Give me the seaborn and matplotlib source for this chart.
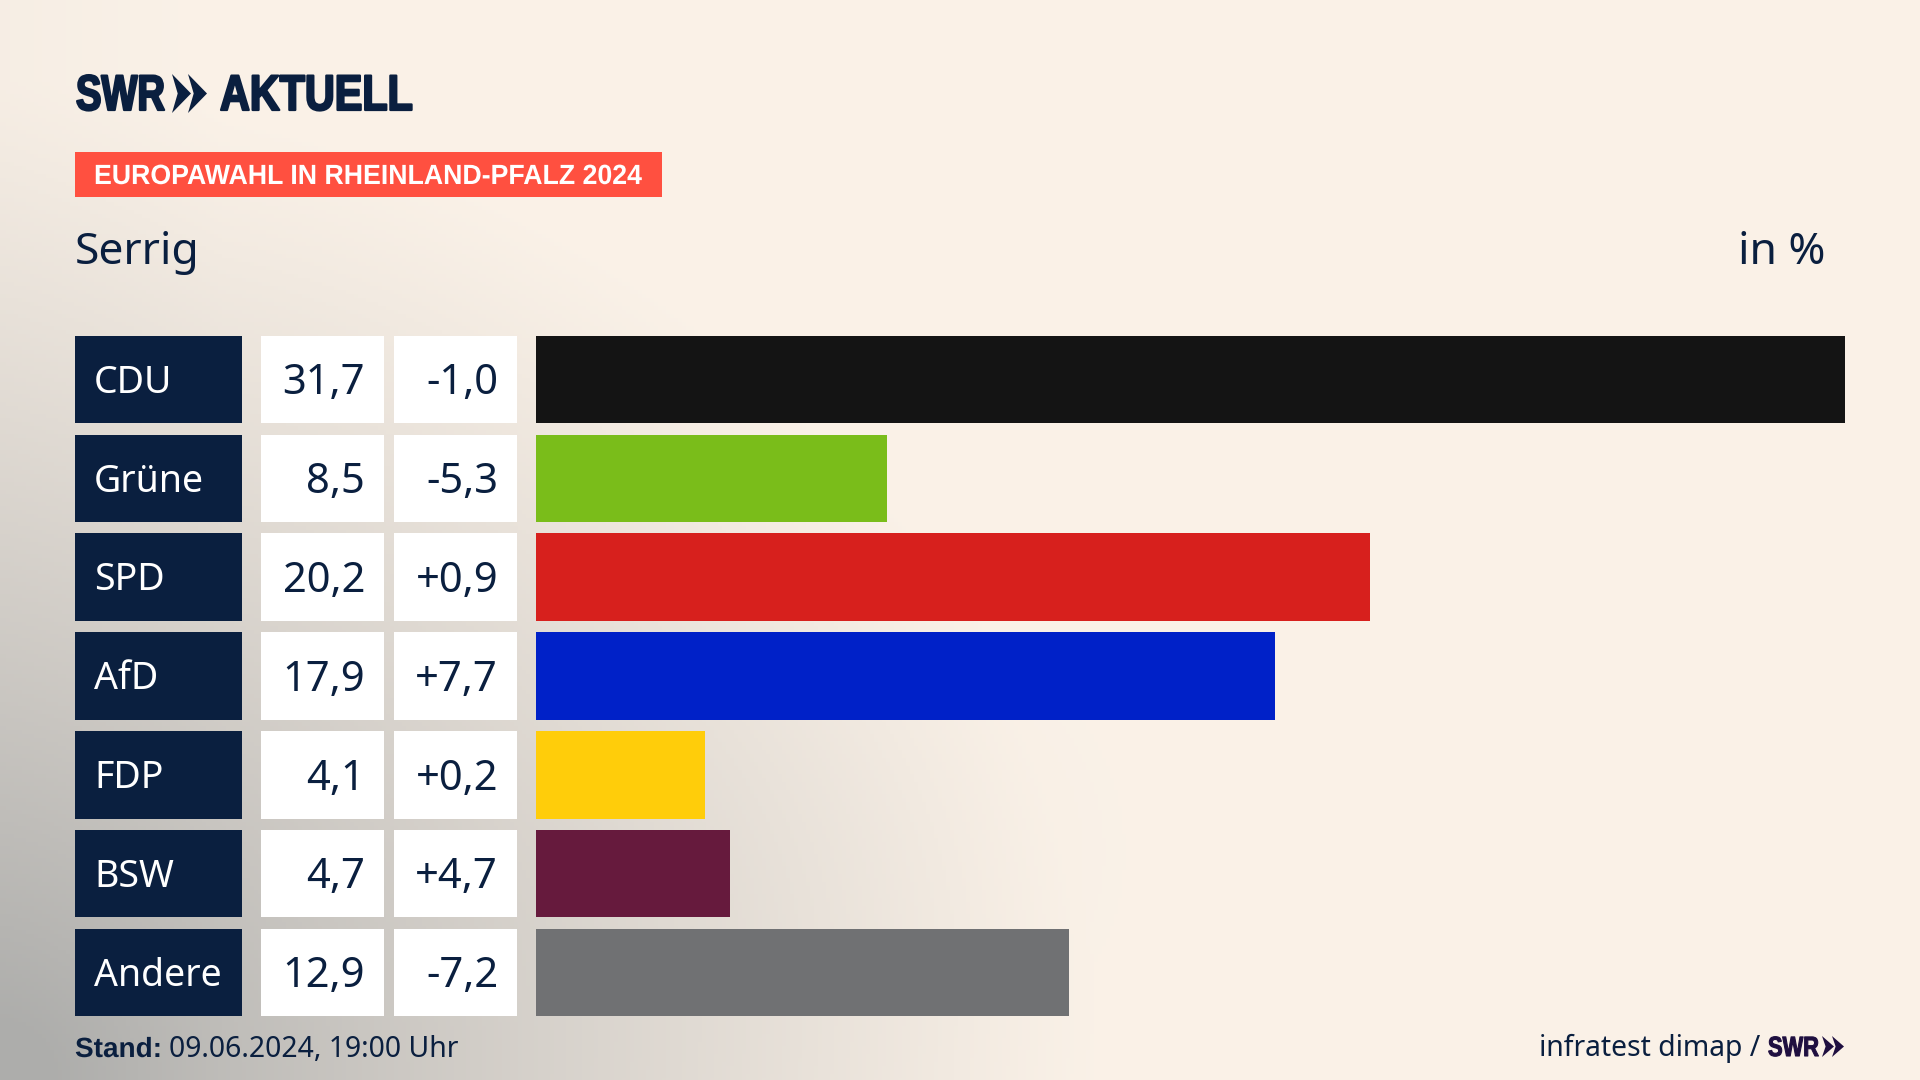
import numpy as np
import pandas as pd
import matplotlib
matplotlib.use('Agg')
import matplotlib.pyplot as plt
import seaborn as sns
from matplotlib.patches import Polygon, Rectangle
from matplotlib.patheffects import AbstractPathEffect
from matplotlib.transforms import Affine2D

parties = ["CDU", "Grüne", "SPD", "AfD", "FDP", "BSW", "Andere"]
results = [31.7, 8.5, 20.2, 17.9, 4.1, 4.7, 12.9]
changes = [-1.0, -5.3, 0.9, 7.7, 0.2, 4.7, -7.2]
party_colors = ["#141414", "#7ABD1A", "#D7201D", "#0021C8", "#FFCD0A", "#661A3D", "#707173"]

NAVY = "#0A1F3F"
W, H = 1920, 1080
FONT = "Noto Sans"
BOLD = "Liberation Sans"

df = pd.DataFrame({"party": parties, "result": results, "change": changes})
df["cell"] = 1


class Squeeze(AbstractPathEffect):
    # narrow a text horizontally, no condensed bold font is installed
    def __init__(self, factor, stroke=0):
        super().__init__()
        self.factor = factor
        self.stroke = stroke

    def draw_path(self, renderer, gc, tpath, affine, rgbFace=None):
        gc0 = renderer.new_gc()
        gc0.copy_properties(gc)
        if self.stroke:
            gc0.set_linewidth(self.stroke)
            gc0.set_foreground(rgbFace)
        renderer.draw_path(gc0, tpath, Affine2D().scale(self.factor, 1) + affine, rgbFace)
        gc0.restore()


def fit_width(text, width, stroke=0):
    real = text.get_window_extent(fig.canvas.get_renderer()).width
    text.set_path_effects([Squeeze(width / real, stroke)])


def px_axes(left, right, top=336, bottom=1016):
    ax = fig.add_axes([left / W, 1 - bottom / H, (right - left) / W, (bottom - top) / H])
    ax.patch.set_alpha(0)
    return ax


def clean(ax, xmax):
    ax.set_xlim(0, xmax)
    ax.set_ylim(6.44, -0.44)
    ax.axis("off")


fig = plt.figure(figsize=(19.2, 10.8), dpi=100)

# background, cream with grey corner at bottom left
bg = fig.add_axes([0, 0, 1, 1], zorder=0)
xx, yy = np.meshgrid(np.arange(0, W, 4), np.arange(0, H, 4))
d = np.sqrt((xx / 1100) ** 2 + ((H - yy) / 1000) ** 2)
a = np.clip(1 - d, 0, 1) ** 1.15 + 0.035 * np.exp(-(((xx - 800) / 320) ** 2 + ((yy - 850) / 260) ** 2))
a = np.clip(a + 0.06 * np.clip(1 - xx / 220, 0, 1), 0, 1)[..., None]
img = (1 - a) * np.array([251, 242, 232]) + a * np.array([173, 173, 171])
bg.imshow(img.astype(np.uint8), extent=(0, W, H, 0), aspect="auto", interpolation="bilinear")
bg.set_xlim(0, W)
bg.set_ylim(H, 0)
bg.axis("off")

# bars
ax = px_axes(536, 1845)
ax.set_zorder(1)
sns.barplot(data=df, x="result", y="party", hue="party", palette=party_colors, width=0.885,
            dodge=False, legend=False, saturation=1, ax=ax)
clean(ax, 31.7)

# table cells
name_ax = px_axes(75, 242)
val_ax = px_axes(261, 384)
chg_ax = px_axes(394, 517)
for cell_ax, col in [(name_ax, NAVY), (val_ax, "white"), (chg_ax, "white")]:
    cell_ax.set_zorder(1)
    sns.barplot(data=df, x="cell", y="party", color=col, width=0.885, saturation=1, ax=cell_ax)
    clean(cell_ax, 1)

for i, row in df.iterrows():
    name_ax.text(19 / 167, i - 0.012, row["party"], color="white", fontsize=27, family=FONT,
                 va="center_baseline", ha="left", transform=name_ax.get_yaxis_transform())
    val_ax.text(104 / 123, i - 0.012, f"{row['result']:.1f}".replace(".", ","), color=NAVY, fontsize=30,
                family=FONT, va="center_baseline", ha="right", transform=val_ax.get_yaxis_transform())
    chg_ax.text(104 / 123, i - 0.012, f"{row['change']:+.1f}".replace(".", ","), color=NAVY, fontsize=30,
                family=FONT, va="center_baseline", ha="right", transform=chg_ax.get_yaxis_transform())

# header and footer drawn in pixel coordinates
top = fig.add_axes([0, 0, 1, 1], zorder=2)
top.set_xlim(0, W)
top.set_ylim(H, 0)
top.axis("off")


def chevrons(x, y0, y1, w, step, color):
    mid = (y0 + y1) / 2
    for k in range(2):
        x0 = x + k * step
        top.add_patch(Polygon([(x0, y0), (x0 + w, mid), (x0, y1), (x0 + w * 0.3, mid)],
                              closed=True, color=color, lw=0))


t = top.text(76, 110, "SWR", color=NAVY, fontsize=36, family=BOLD, weight="bold", va="baseline")
fit_width(t, 89, 1.6)
chevrons(172, 74, 113, 19, 16, NAVY)
t = top.text(220, 110, "AKTUELL", color=NAVY, fontsize=36, family=BOLD, weight="bold", va="baseline")
fit_width(t, 193, 1.6)

top.add_patch(Rectangle((75, 152), 587, 45, color="#FF5040", lw=0))
t = top.text(94, 184, "EUROPAWAHL IN RHEINLAND-PFALZ 2024", color="white", fontsize=20, family=BOLD,
             weight="bold", va="baseline")
fit_width(t, 548)

top.text(75, 264, "Serrig", color=NAVY, fontsize=32, family=FONT, va="baseline")
top.text(1825, 264, "in %", color=NAVY, fontsize=32, family=FONT, va="baseline", ha="right")

t = top.text(75, 1057, "Stand:", color=NAVY, fontsize=20, family=BOLD, weight="bold", va="baseline")
fit_width(t, 87)
top.text(169, 1057, "09.06.2024, 19:00 Uhr", color=NAVY, fontsize=20.4, family=FONT, va="baseline")
top.text(1760, 1056, "infratest dimap /", color=NAVY, fontsize=20.4, family=FONT, va="baseline", ha="right")
t = top.text(1768, 1056, "SWR", color="#1F0F40", fontsize=20, family=BOLD, weight="bold", va="baseline")
fit_width(t, 51, 0.8)
chevrons(1822, 1036, 1057, 12, 10, "#1F0F40")

fig.savefig("out.png", dpi=100)
